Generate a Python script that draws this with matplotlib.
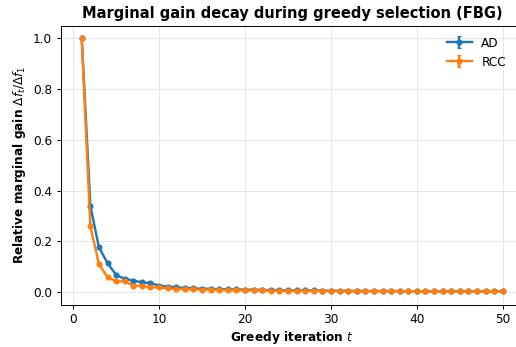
import numpy as np
import matplotlib
matplotlib.use("Agg")
import matplotlib.pyplot as plt

iters = np.arange(1, 51)

ad_gain = [1.0, 0.34, 0.176, 0.114, 0.067, 0.052, 0.045, 0.038, 0.035, 0.025,
           0.021, 0.018, 0.016, 0.014, 0.013, 0.012, 0.011, 0.010, 0.010, 0.009,
           0.009, 0.008, 0.008, 0.007, 0.007, 0.006, 0.006, 0.006, 0.005, 0.005,
           0.005, 0.005, 0.004, 0.004, 0.004, 0.004, 0.004, 0.004, 0.003, 0.003,
           0.003, 0.003, 0.003, 0.003, 0.003, 0.003, 0.003, 0.003, 0.003, 0.003]
ad_err = [0.0, 0.006, 0.005, 0.004, 0.003, 0.002, 0.002, 0.002, 0.002, 0.002] + [0.001] * 40

rcc_gain = [1.0, 0.26, 0.11, 0.058, 0.042, 0.042, 0.025, 0.025, 0.018, 0.018,
            0.014, 0.012, 0.011, 0.010, 0.009, 0.009, 0.008, 0.007, 0.007, 0.006,
            0.006, 0.006, 0.005, 0.005, 0.005, 0.004, 0.004, 0.004, 0.004, 0.004,
            0.003, 0.003, 0.003, 0.003, 0.003, 0.003, 0.003, 0.003, 0.003, 0.003,
            0.002, 0.002, 0.002, 0.002, 0.002, 0.002, 0.002, 0.002, 0.002, 0.002]
rcc_err = [0.0, 0.006, 0.004, 0.003, 0.002, 0.002, 0.002, 0.002, 0.001, 0.001] + [0.001] * 40

# figure drawn a bit larger then shrunk to 517x347
fig = plt.figure(figsize=(5.908, 3.966), dpi=87.5)
ax = fig.add_axes([0.1174, 0.122, 0.896, 0.804])

ax.errorbar(iters, ad_gain, yerr=ad_err, marker='o', markersize=4, linewidth=2,
            capsize=2, color='#1f77b4', label='AD')
ax.errorbar(iters, rcc_gain, yerr=rcc_err, marker='o', markersize=4, linewidth=2,
            capsize=2, color='#ff7f0e', label='RCC')

ax.set_title('Marginal gain decay during greedy selection (FBG)', fontweight='bold')
ax.set_xlabel('Greedy iteration $t$', fontweight='bold', labelpad=2)
ax.set_ylabel(r'Relative marginal gain $\Delta f_t / \Delta f_1$', fontweight='bold')
ax.set_xlim(-1.45, 52.45)
ax.set_ylim(-0.05, 1.05)
ax.grid(True, alpha=0.3)
ax.legend(loc='upper right', bbox_to_anchor=(0.985, 1.0), frameon=False)

fig.savefig('out.png', dpi=87.5)
